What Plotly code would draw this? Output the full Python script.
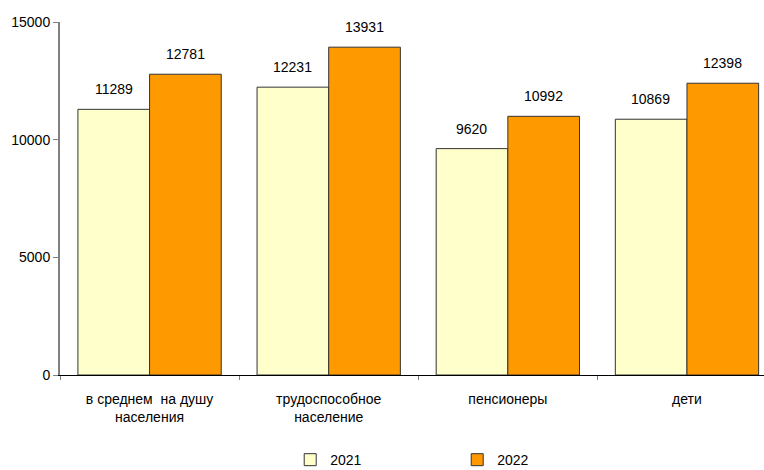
import plotly.graph_objects as go

categories = ["в среднем  на душу<br>населения", "трудоспособное<br>население", "пенсионеры", "дети"]
years = ["2021", "2022"]
values_2021 = [11289, 12231, 9620, 10869]
values_2022 = [12781, 13931, 10992, 12398]
colors = ["#FFFFCC", "#FF9900"]
y_ticks = [0, 5000, 10000, 15000]
y_tick_labels = ["0", "5000", "10000", "15000"]

FONT = "Liberation Sans, Arial"

fig = go.Figure()
for name, vals, col in zip(years, [values_2021, values_2022], colors):
    fig.add_trace(go.Bar(
        x=categories, y=vals, name=name,
        marker=dict(color=col, line=dict(color="#333333", width=1)),
    ))

annotations = []
for shift, vals in zip([-36, 36], [values_2021, values_2022]):
    for c, v in zip(categories, vals):
        annotations.append(dict(
            x=c, y=v, xref="x", yref="y", text=str(v), showarrow=False,
            xshift=shift, yshift=20, yanchor="middle",
            font=dict(family=FONT, size=14, color="#000000"),
        ))

fig.update_layout(
    width=764, height=470,
    margin=dict(l=60, r=0, t=22, b=95, autoexpand=False),
    paper_bgcolor="white", plot_bgcolor="white",
    barmode="group", bargap=0.2, bargroupgap=0,
    font=dict(family=FONT, size=14, color="#000000"),
    annotations=annotations,
    showlegend=True,
    legend=dict(orientation="h", x=0.327, xanchor="left", y=-0.241, yanchor="middle",
                entrywidth=122, entrywidthmode="pixels",
                font=dict(size=14), traceorder="normal"),
    xaxis=dict(
        type="category", range=[-0.5, 3.43], automargin=False,
        showline=True, linecolor="#000000", linewidth=1,
        ticks="outside", tickson="boundaries", ticklen=4, tickcolor="#808080",
        ticklabelstandoff=11,
        showgrid=False, zeroline=False,
    ),
    yaxis=dict(
        range=[0, 15000], tickvals=y_ticks, ticktext=y_tick_labels, automargin=False,
        showline=True, linecolor="#808080", linewidth=2,
        ticks="outside", ticklen=5, tickcolor="#808080",
        showgrid=False, zeroline=False,
    ),
)

fig.write_html(
    "out.html",
    config={"displayModeBar": False},
    post_script="document.body.style.margin='0';document.body.style.overflow='hidden';",
)
